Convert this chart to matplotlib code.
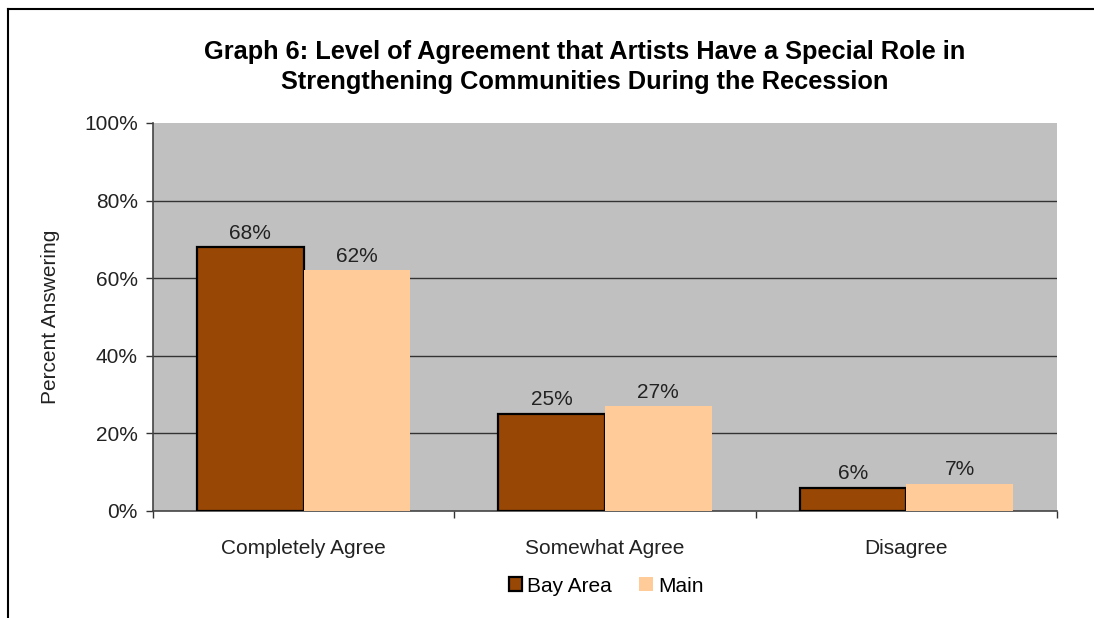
import numpy as np
import matplotlib
matplotlib.use('Agg')
import matplotlib.pyplot as plt
from matplotlib.lines import Line2D
from matplotlib.patches import Patch

categories = ['Completely Agree', 'Somewhat Agree', 'Disagree']
bay_area = [68, 25, 6]
main = [62, 27, 7]
series_names = ['Bay Area', 'Main']
y_ticks = [0, 20, 40, 60, 80, 100]
title = ('Graph 6: Level of Agreement that Artists Have a Special Role in\n'
         'Strengthening Communities During the Recession')

plt.rcParams['font.family'] = ['Liberation Sans', 'DejaVu Sans']

W, H = 1094, 618
fig = plt.figure(figsize=(W / 100, H / 100), dpi=100)
fig.patch.set_facecolor('white')

# outer chart frame (only top and left visible in the crop)
fig.add_artist(Line2D([8 / W, 1.0], [1 - 9 / H, 1 - 9 / H], color='black', lw=1.5,
                      transform=fig.transFigure))
fig.add_artist(Line2D([8 / W, 8 / W], [0.0, 1 - 9 / H], color='black', lw=1.5,
                      transform=fig.transFigure))

ax = fig.add_axes([153 / W, 1 - 511 / H, (1057 - 153) / W, (511 - 123) / H])
ax.set_facecolor('#C0C0C0')

x = np.arange(len(categories))
w = 0.354
b1 = ax.bar(x - w / 2, bay_area, w, color='#994705', edgecolor='black', linewidth=1.6, zorder=3)
b2 = ax.bar(x + w / 2, main, w, color='#FFCC99', edgecolor='none', zorder=3)

for bars, vals in ((b1, bay_area), (b2, main)):
    for r, v in zip(bars, vals):
        ax.text(r.get_x() + r.get_width() / 2, v + 1.2, f'{v}%', ha='center', va='bottom',
                fontsize=15, color='#222222', zorder=4)

ax.set_xlim(-0.5, len(categories) - 0.5)
ax.set_ylim(0, 100)
ax.set_yticks(y_ticks)
ax.set_yticklabels([f'{t}%' for t in y_ticks], fontsize=15, color='#222222')
for t in y_ticks[1:-1]:
    ax.axhline(t, color='#333333', lw=1.0, zorder=1)

# category labels centered, tick marks at boundaries
ax.set_xticks(np.arange(-0.5, len(categories)), minor=False)
ax.set_xticklabels([])
ax.set_xticks(x, minor=True)
ax.set_xticklabels(categories, minor=True, fontsize=15, color='#222222')
ax.tick_params(axis='x', which='minor', length=0, pad=20)
ax.tick_params(axis='x', which='major', length=5, width=1, color='#333333', direction='out')
ax.tick_params(axis='y', length=5, width=1, color='#333333', direction='out', pad=6)

for s in ('top', 'right'):
    ax.spines[s].set_visible(False)
for s in ('left', 'bottom'):
    ax.spines[s].set_color('#444444')
    ax.spines[s].set_linewidth(1.2)

ax.set_ylabel('Percent Answering', fontsize=15, color='#222222')
ax.yaxis.set_label_coords(-(153 - 60) / (1057 - 153), 0.5)

fig.text(585 / W, 1 - 67 / H, title, ha='center', va='center', fontsize=18.3,
         fontweight='bold', color='black', linespacing=1.35)

handles = [Patch(facecolor='#994705', edgecolor='black', linewidth=1.6),
           Patch(facecolor='#FFCC99', edgecolor='none')]
fig.legend(handles, series_names, loc='center', bbox_to_anchor=(606 / W, 1 - 586 / H),
           ncol=2, frameon=False, fontsize=15, handlelength=0.65, handleheight=0.65,
           handletextpad=0.25, columnspacing=1.3)

fig.savefig('out.png', dpi=100, facecolor='white')
